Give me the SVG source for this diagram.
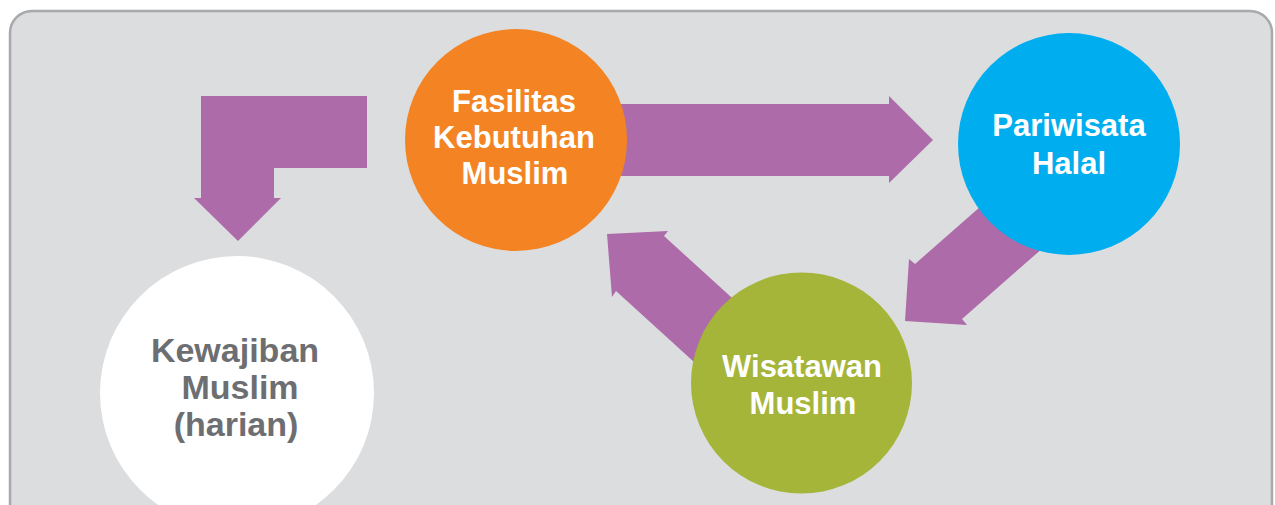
<svg xmlns="http://www.w3.org/2000/svg" width="1275" height="505" viewBox="0 0 1275 505">
<style>
.arrow{fill:#ad6baa;}
.lbl{font-family:"Liberation Sans",Arial,sans-serif;font-weight:bold;text-anchor:middle;fill:#ffffff;font-size:31px;}
.lbl-dark{fill:#6d6e71;font-size:34px;}
</style>
<rect x="10" y="11" width="1262" height="530" rx="22" ry="22" fill="#dcdddf" stroke="#a7a9ac" stroke-width="2.5"/>
<g id="connectors">
<polygon class="arrow" points="367,96 201,96 201,198 194,198 238,241 281,198 274,198 274,168 367,168"/>
<polygon class="arrow" points="560,104 889,104 889,96 933,140 889,183 889,176 560,176"/>
<polygon class="arrow" points="607,234 668,231 664,236 753,317 705,372 616,291 612,297"/>
<polygon class="arrow" points="905,321 909,259 915,264 1005,185 1052,240 962,319 967,325"/>
</g>
<g id="node-fasilitas">
<circle cx="516" cy="140" r="111" fill="#f48423"/>
<text class="lbl" x="514" y="112">Fasilitas</text>
<text class="lbl" x="514" y="148">Kebutuhan</text>
<text class="lbl" x="515" y="184">Muslim</text>
</g>
<g id="node-pariwisata">
<circle cx="1069" cy="144" r="111" fill="#00aeef"/>
<text class="lbl" x="1069" y="136">Pariwisata</text>
<text class="lbl" x="1069" y="174">Halal</text>
</g>
<g id="node-wisatawan">
<circle cx="801.5" cy="383" r="110.5" fill="#a5b53a"/>
<text class="lbl" x="802" y="377">Wisatawan</text>
<text class="lbl" x="803" y="414">Muslim</text>
</g>
<g id="node-kewajiban">
<circle cx="237" cy="393" r="137" fill="#ffffff"/>
<text class="lbl lbl-dark" x="235" y="362">Kewajiban</text>
<text class="lbl lbl-dark" x="240" y="399">Muslim</text>
<text class="lbl lbl-dark" x="236" y="436">(harian)</text>
</g>
</svg>
